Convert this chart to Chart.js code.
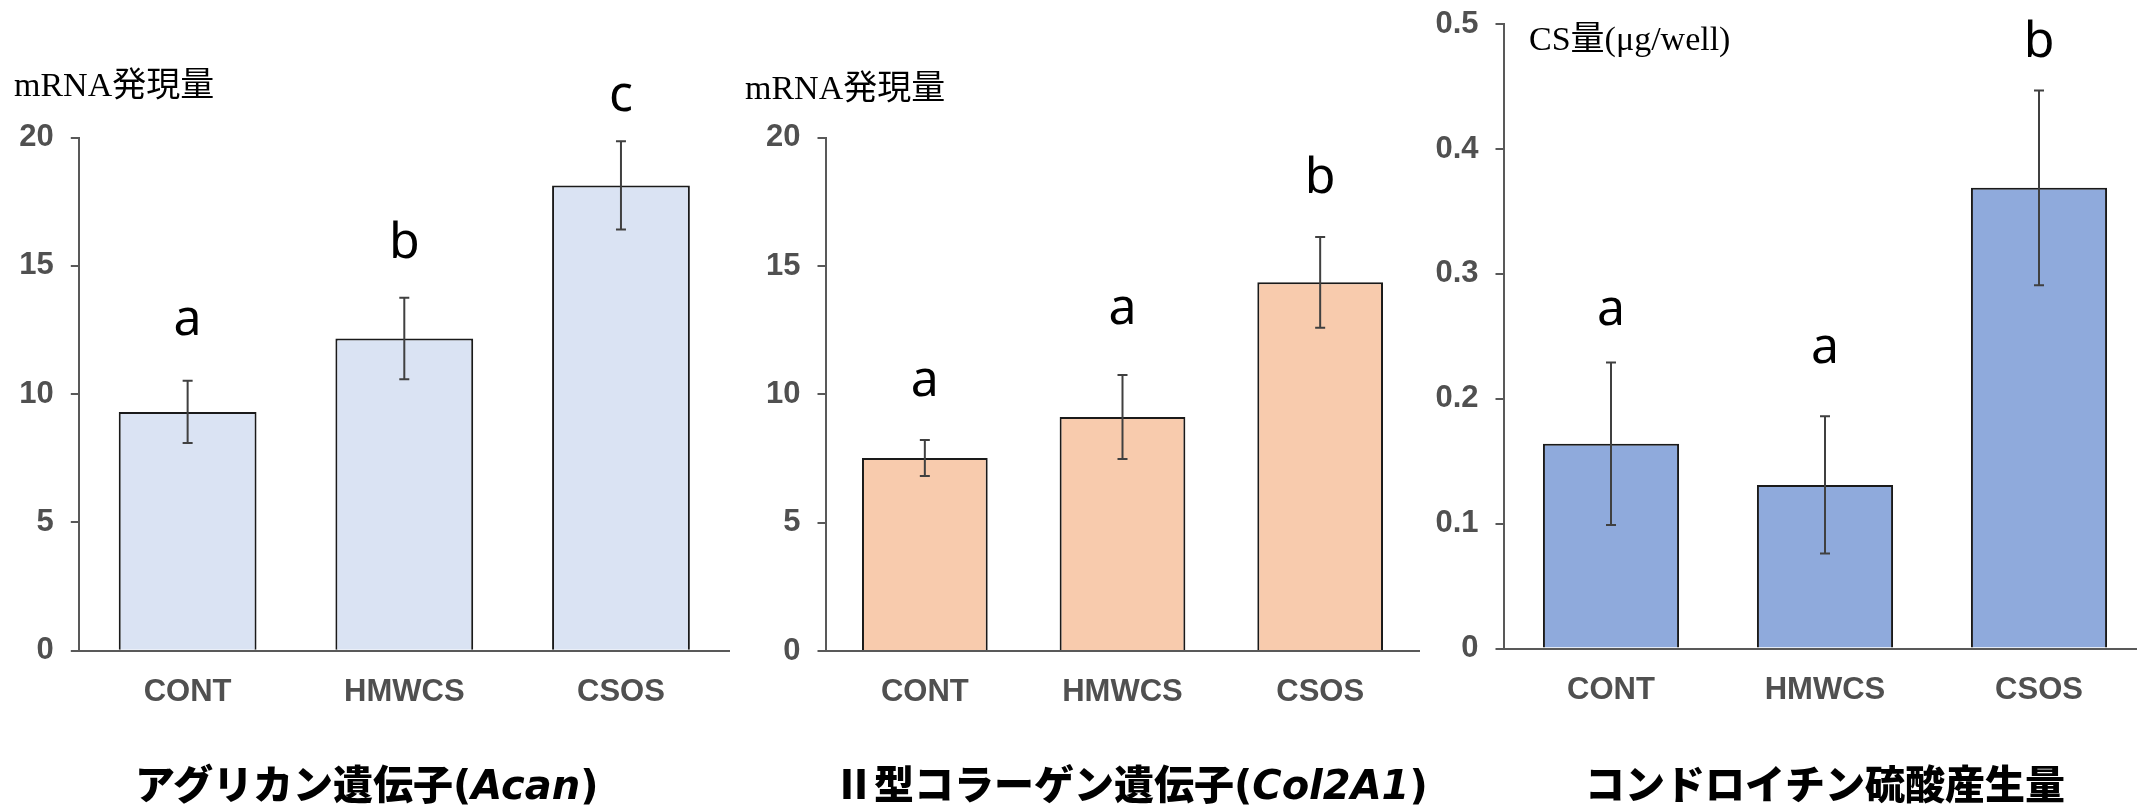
<!DOCTYPE html>
<html><head><meta charset="utf-8">
<script src="https://cdn.jsdelivr.net/npm/chart.js@4.4.1/dist/chart.umd.min.js"></script>
<style>
html,body{margin:0;padding:0;background:#fff;width:2137px;height:811px;overflow:hidden;position:relative;}
canvas{position:absolute;top:0;}
.ylab{position:absolute;font-family:"Liberation Serif","Noto Sans CJK JP",serif;font-size:34px;line-height:34px;color:#000;white-space:nowrap;z-index:2;}
.title{position:absolute;font-family:"Noto Sans CJK JP",sans-serif;font-weight:900;font-size:40px;line-height:40px;color:#000;white-space:nowrap;z-index:2;}
.title .lat{font-family:"DejaVu Sans","Noto Sans CJK JP",sans-serif;font-weight:700;}
</style></head><body>
<canvas id="c1" width="740" height="811" style="left:0px"></canvas>
<canvas id="c2" width="700" height="811" style="left:740px"></canvas>
<canvas id="c3" width="740" height="811" style="left:1420px"></canvas>
<div class="ylab" style="left:14px;top:68px">mRNA発現量</div>
<div class="ylab" style="left:745px;top:71px">mRNA発現量</div>
<div class="ylab" style="left:1529px;top:22px">CS量(μg/well)</div>
<div class="title" style="left:135px;top:762px">アグリカン遺伝子<span class="lat">(<i>Acan</i>)</span></div>
<div class="title" style="left:834px;top:762px">Ⅱ型コラーゲン遺伝子<span class="lat">(<i>Col2A1</i>)</span></div>
<div class="title" style="left:1585px;top:762px">コンドロイチン硫酸産生量</div>
<script>
// ---- data ----
const categories = ['CONT', 'HMWCS', 'CSOS'];

const acanMeans = [9.31, 12.17, 18.14];
const acanErrors = [1.21, 1.59, 1.72];
const acanLetters = ['a', 'b', 'c'];
const acanLetterY = [12.3, 15.3, 21.05];
const acanTicks = ['0', '5', '10', '15', '20'];

const col2a1Means = [7.52, 9.12, 14.37];
const col2a1Errors = [0.70, 1.64, 1.77];
const col2a1Letters = ['a', 'a', 'b'];
const col2a1LetterY = [9.94, 12.74, 17.87];
const col2a1Ticks = ['0', '5', '10', '15', '20'];

const csMeans = [0.164, 0.131, 0.369];
const csErrors = [0.065, 0.055, 0.078];
const csLetters = ['a', 'a', 'b'];
const csLetterY = [0.259, 0.229, 0.4735];
const csTicks = ['0', '0.1', '0.2', '0.3', '0.4', '0.5'];

// ---- plugin: error bars + significance letters ----
const errLetterPlugin = {
  id: 'errLetters',
  afterDatasetsDraw(chart, args, opts) {
    const ctx = chart.ctx;
    const meta = chart.getDatasetMeta(0);
    const ys = chart.scales.y;
    ctx.save();
    meta.data.forEach((bar, i) => {
      const x = bar.x;
      const yt = ys.getPixelForValue(opts.means[i] + opts.errors[i]);
      const yb = ys.getPixelForValue(opts.means[i] - opts.errors[i]);
      ctx.strokeStyle = '#404040';
      ctx.lineWidth = 2;
      ctx.beginPath();
      ctx.moveTo(x, yt); ctx.lineTo(x, yb);
      ctx.moveTo(x - 5, yt); ctx.lineTo(x + 5, yt);
      ctx.moveTo(x - 5, yb); ctx.lineTo(x + 5, yb);
      ctx.stroke();
      ctx.fillStyle = '#000';
      ctx.font = '50px "Noto Sans", sans-serif';
      ctx.textAlign = 'center';
      ctx.textBaseline = 'alphabetic';
      ctx.fillText(opts.letters[i], x, ys.getPixelForValue(opts.letterY[i]));
    });
    ctx.restore();
  }
};

function makeChart(id, means, errors, letters, letterY, tickLabels, max, step, color, g) {
  return new Chart(document.getElementById(id), {
    type: 'bar',
    data: {
      labels: categories,
      datasets: [{
        data: means,
        backgroundColor: color,
        borderColor: '#1a1a1a',
        borderWidth: 2,
        categoryPercentage: 1,
        barPercentage: 0.636
      }]
    },
    options: {
      responsive: false,
      animation: false,
      devicePixelRatio: 1,
      layout: { padding: { left: 0, top: g.top, right: g.right, bottom: g.bottom } },
      plugins: {
        legend: { display: false },
        tooltip: { enabled: false },
        errLetters: { means: means, errors: errors, letters: letters, letterY: letterY }
      },
      scales: {
        x: {
          grid: { display: false, drawTicks: false },
          border: { display: true, color: '#595959', width: 2 },
          ticks: { color: '#505050', font: { family: '"Liberation Sans", Arial, sans-serif', weight: 'bold', size: 31 }, padding: 23 },
          afterFit(s) { s.height = 80; s.paddingLeft = 0; s.paddingRight = 0; }
        },
        y: {
          min: 0, max: max,
          ticks: {
            stepSize: step,
            color: '#505050',
            padding: 17,
            font: { family: '"Liberation Sans", Arial, sans-serif', weight: 'bold', size: 31 },
            callback: (v, i) => tickLabels[i]
          },
          grid: { drawOnChartArea: false, drawTicks: true, tickLength: 8.5, color: '#595959', lineWidth: 2 },
          border: { display: true, color: '#595959', width: 2 },
          afterFit(s) { s.width = g.yw; s.paddingTop = 0; s.paddingBottom = 0; }
        }
      }
    },
    plugins: [errLetterPlugin]
  });
}

function build() {
  makeChart('c1', acanMeans, acanErrors, acanLetters, acanLetterY, acanTicks, 20, 5, '#dae3f3',
    { yw: 79.3, top: 137.7, right: 10.7, bottom: 80.3 });
  makeChart('c2', col2a1Means, col2a1Errors, col2a1Letters, col2a1LetterY, col2a1Ticks, 20, 5, '#f8cbad',
    { yw: 86, top: 137.9, right: 21, bottom: 80 });
  makeChart('c3', csMeans, csErrors, csLetters, csLetterY, csTicks, 0.5, 0.1, '#8faadc',
    { yw: 84, top: 24.2, right: 14, bottom: 82.5 });
}

const fontLoads = [
  document.fonts.load('50px "Noto Sans"'),
  document.fonts.load('bold 31px "Liberation Sans"')
];
Promise.race([Promise.all(fontLoads), new Promise(r => setTimeout(r, 800))]).then(build, build);
</script>
</body></html>
